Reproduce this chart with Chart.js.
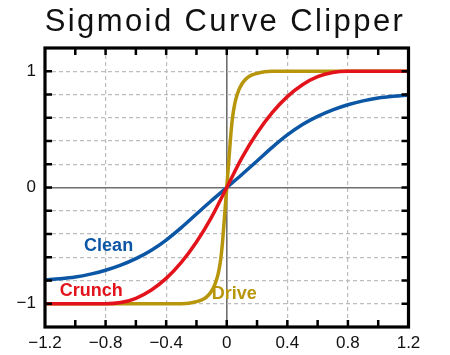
<!DOCTYPE html>
<html><head><meta charset="utf-8">
<script src="https://cdn.jsdelivr.net/npm/chart.js@4.4.0/dist/chart.umd.min.js"></script>
<style>html,body{margin:0;padding:0;background:#fff;}#wrap{width:450px;height:355px;}</style>
</head><body><div id="wrap"><canvas id="c" width="450" height="355"></canvas></div>
<script>
// ---- data ----
const seriesNames = ['Clean', 'Crunch', 'Drive'];

const cleanX = [-1.2,-1.1,-1.0,-0.9,-0.8,-0.7,-0.6,-0.5,-0.4,-0.3,-0.2,-0.1,0,0.1,0.2,0.3,0.4,0.5,0.6,0.7,0.8,0.9,1.0,1.1,1.2];
const cleanY = [-0.795,-0.785,-0.77,-0.745,-0.712,-0.668,-0.612,-0.542,-0.452,-0.345,-0.228,-0.112,0,0.112,0.228,0.345,0.452,0.542,0.612,0.668,0.712,0.745,0.77,0.785,0.795];

const crunchX = [-1.2,-1.1,-1.0,-0.9,-0.8,-0.7,-0.6,-0.5,-0.4,-0.3,-0.2,-0.1,0,0.1,0.2,0.3,0.4,0.5,0.6,0.7,0.8,0.9,1.0,1.1,1.2];
const crunchY = [-1,-1,-1,-1,-1,-0.99,-0.953,-0.884,-0.782,-0.644,-0.469,-0.255,0,0.255,0.469,0.644,0.782,0.884,0.953,0.99,1,1,1,1,1];

const driveX = [-1.2,-0.8,-0.4,-0.3,-0.25,-0.2,-0.15,-0.12,-0.1,-0.08,-0.06,-0.05,-0.04,-0.03,-0.02,-0.01,0,0.01,0.02,0.03,0.04,0.05,0.06,0.08,0.1,0.12,0.15,0.2,0.25,0.3,0.4,0.8,1.2];
const driveY = [-1,-1,-1,-0.999,-0.995,-0.982,-0.958,-0.925,-0.89,-0.84,-0.76,-0.7,-0.62,-0.5,-0.34,-0.17,0,0.17,0.34,0.5,0.62,0.7,0.76,0.84,0.89,0.925,0.958,0.982,0.995,0.999,1,1,1];

const xLabelValues = [-1.2,-0.8,-0.4,0,0.4,0.8,1.2];
const xTickLabels  = ['\u22121.2','\u22120.8','\u22120.4','0','0.4','0.8','1.2'];
const yLabelValues = [-1,0,1];
const yTickLabels  = ['\u22121','0','1'];
const xDashedGrid = [-0.8,-0.4,0.4,0.8];

// ---- styles ----
const COLORS = {Clean:'#0b56a5', Crunch:'#e3131b', Drive:'#b8960c'};
const FONT = '"Liberation Sans", Arial, Helvetica, sans-serif';
const near = (a,b)=>Math.abs(a-b)<1e-6;
const pts = (xs,ys)=>xs.map((x,i)=>({x:x,y:ys[i]}));

const seriesLabelPos = {
  Clean:  {x:-0.78,  y:-0.50},
  Crunch: {x:-0.895, y:-0.89},
  Drive:  {x:0.05,   y:-0.913}
};

function ds(name, xs, ys){
  return {label:name, data:pts(xs,ys), borderColor:COLORS[name], backgroundColor:COLORS[name],
    borderWidth:3.5, pointRadius:0, fill:false, cubicInterpolationMode:'monotone'};
}

const framePlugin = {
  id:'frame',
  afterDatasetsDraw(chart){
    const {ctx, chartArea:a, scales} = chart;
    ctx.save();
    ctx.strokeStyle = '#000';
    ctx.lineWidth = 2.5;
    const L = 7;
    scales.x.ticks.forEach(t=>{
      if (near(t.value,-1.2)||near(t.value,1.2)) return;
      const px = scales.x.getPixelForValue(t.value);
      ctx.beginPath(); ctx.moveTo(px,a.bottom); ctx.lineTo(px,a.bottom-L);
      ctx.moveTo(px,a.top); ctx.lineTo(px,a.top+L); ctx.stroke();
    });
    scales.y.ticks.forEach(t=>{
      if (near(t.value,-1.2)||near(t.value,1.2)) return;
      const py = scales.y.getPixelForValue(t.value);
      ctx.beginPath(); ctx.moveTo(a.left,py); ctx.lineTo(a.left+L,py);
      ctx.moveTo(a.right,py); ctx.lineTo(a.right-L,py); ctx.stroke();
    });
    ctx.lineWidth = 3.2;
    ctx.strokeRect(a.left, a.top, a.right-a.left, a.bottom-a.top);
    // series labels
    ctx.font = 'bold 18px ' + FONT;
    ctx.textAlign = 'center';
    ctx.textBaseline = 'middle';
    seriesNames.forEach(n=>{
      const p = seriesLabelPos[n];
      ctx.fillStyle = COLORS[n];
      ctx.fillText(n, scales.x.getPixelForValue(p.x), scales.y.getPixelForValue(p.y));
    });
    ctx.restore();
  }
};

const titleSpacing = {
  id:'titleSpacing',
  afterLayout(chart){
    const t = chart.titleBlock;
    if (t && !t._spaced){
      const d = t.draw.bind(t);
      t.draw = function(area){ const c = chart.ctx; c.save(); c.letterSpacing = '2.4px'; d(area); c.restore(); };
      t._spaced = true;
    }
  }
};

function gridColor(isX){
  return (c)=>{
    const v = c.tick ? c.tick.value : NaN;
    if (near(v,0)) return '#6e6e6e';
    if (near(v,-1.2)||near(v,1.2)) return 'rgba(0,0,0,0)';
    if (isX && !xDashedGrid.some(g=>near(g,v))) return 'rgba(0,0,0,0)';
    return '#bdbdbd';
  };
}
function gridDash(c){
  const v = c.tick ? c.tick.value : NaN;
  return near(v,0) ? [] : [4,3];
}
function gridWidth(c){
  const v = c.tick ? c.tick.value : NaN;
  return near(v,0) ? 1.6 : 1.2;
}

new Chart(document.getElementById('c'), {
  type:'line',
  data:{datasets:[ds('Crunch',crunchX,crunchY), ds('Drive',driveX,driveY), ds('Clean',cleanX,cleanY)]},
  options:{
    responsive:false, animation:false,
    layout:{padding:{top:4, right:0, bottom:0, left:0}},
    plugins:{
      legend:{display:false}, tooltip:{enabled:false},
      title:{display:true, text:'Sigmoid Curve Clipper', color:'#111',
        font:{family:FONT, size:31, weight:'normal', lineHeight:1.2}, padding:{top:0,bottom:6.8}}
    },
    scales:{
      x:{type:'linear', min:-1.2, max:1.2,
        ticks:{stepSize:0.2, autoSkip:false, maxRotation:0, minRotation:0, padding:6, color:'#111',
          font:{family:FONT, size:17},
          callback:(v)=>{const i = xLabelValues.findIndex(g=>near(g,v)); return i>=0 ? xTickLabels[i] : '';}},
        grid:{drawTicks:false, color:gridColor(true), lineWidth:gridWidth},
        border:{display:false, dash:gridDash},
        afterFit(s){ s.height = 28; }
      },
      y:{type:'linear', min:-1.2, max:1.2,
        ticks:{stepSize:0.2, autoSkip:false, padding:9, color:'#111',
          font:{family:FONT, size:17},
          callback:(v)=>{const i = yLabelValues.findIndex(g=>near(g,v)); return i>=0 ? yTickLabels[i] : '';}},
        grid:{drawTicks:false, color:gridColor(false), lineWidth:gridWidth},
        border:{display:false, dash:gridDash},
        afterFit(s){ s.width = 45; }
      },
      yRight:{type:'linear', position:'right', min:-1.2, max:1.2,
        ticks:{display:false}, grid:{display:false, drawTicks:false}, border:{display:false},
        afterFit(s){ s.width = 41.5; }
      }
    }
  },
  plugins:[titleSpacing, framePlugin]
});
</script></body></html>
